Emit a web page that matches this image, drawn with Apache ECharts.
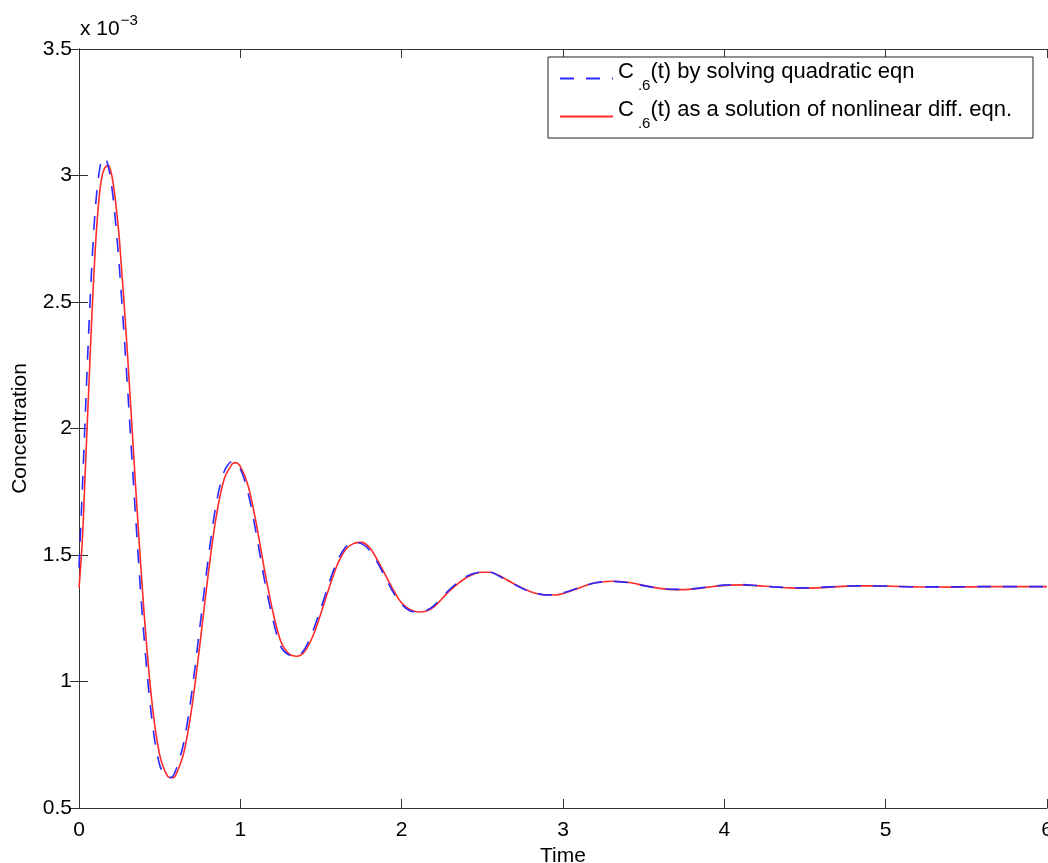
<!DOCTYPE html>
<html>
<head>
<meta charset="utf-8">
<script src="https://cdn.jsdelivr.net/npm/echarts@6/dist/echarts.min.js"></script>
<style>
html,body{margin:0;padding:0;background:#fff;}
#chart{width:1048px;height:863px;}
</style>
</head>
<body>
<div id="chart"></div>
<script>
// Values in units of 1e-3
const timeQuad = [0.00,0.02,0.04,0.06,0.08,0.10,0.12,0.14,0.16,0.18,0.20,0.22,0.25,0.30,0.35,0.40,0.45,0.50,0.55,0.57,0.60,0.65,0.70,0.75,0.80,0.85,0.90,0.95,1.00,1.05,1.10,1.15,1.20,1.25,1.30,1.35,1.40,1.45,1.50,1.55,1.60,1.65,1.70,1.75,1.80,1.85,1.90,1.95,2.00,2.05,2.10,2.15,2.20,2.30,2.40,2.50,2.55,2.60,2.70,2.80,2.90,2.95,3.00,3.10,3.20,3.30,3.40,3.50,3.60,3.70,3.80,3.90,4.00,4.10,4.20,4.30,4.40,4.50,4.60,4.70,4.80,4.90,5.00,5.20,5.40,5.60,5.80,6.00];
const concQuad = [1.45,1.75,2.07,2.38,2.65,2.86,2.99,3.06,3.07,3.04,2.97,2.86,2.64,2.17,1.66,1.20,0.86,0.67,0.62,0.62,0.65,0.76,0.96,1.22,1.48,1.70,1.83,1.87,1.84,1.74,1.58,1.40,1.25,1.14,1.105,1.10,1.13,1.20,1.29,1.39,1.475,1.53,1.55,1.545,1.52,1.47,1.41,1.35,1.305,1.28,1.275,1.28,1.30,1.365,1.415,1.433,1.432,1.418,1.383,1.354,1.342,1.343,1.35,1.371,1.39,1.396,1.391,1.379,1.368,1.364,1.366,1.374,1.381,1.383,1.379,1.374,1.371,1.370,1.372,1.376,1.378,1.378,1.377,1.374,1.374,1.375,1.375,1.375];
const timeDiff = [0.00,0.02,0.04,0.06,0.08,0.10,0.12,0.14,0.16,0.18,0.20,0.22,0.25,0.30,0.35,0.40,0.45,0.50,0.55,0.58,0.60,0.65,0.70,0.75,0.80,0.85,0.90,0.95,0.97,1.00,1.05,1.10,1.15,1.20,1.25,1.30,1.35,1.40,1.45,1.50,1.55,1.60,1.65,1.70,1.75,1.80,1.85,1.90,1.95,2.00,2.05,2.10,2.15,2.20,2.30,2.40,2.50,2.55,2.60,2.70,2.80,2.90,2.95,3.00,3.10,3.20,3.30,3.40,3.50,3.60,3.70,3.80,3.90,4.00,4.10,4.20,4.30,4.40,4.50,4.60,4.70,4.80,4.90,5.00,5.20,5.40,5.60,5.80,6.00];
const concDiff = [1.37,1.55,1.85,2.15,2.45,2.70,2.88,2.99,3.03,3.04,3.01,2.93,2.75,2.30,1.78,1.30,0.93,0.71,0.625,0.62,0.63,0.72,0.90,1.15,1.42,1.65,1.80,1.86,1.865,1.85,1.77,1.62,1.44,1.28,1.16,1.11,1.10,1.12,1.18,1.27,1.37,1.46,1.52,1.545,1.55,1.53,1.48,1.42,1.36,1.31,1.285,1.275,1.278,1.295,1.36,1.41,1.432,1.432,1.42,1.385,1.355,1.342,1.342,1.348,1.37,1.39,1.396,1.392,1.38,1.368,1.363,1.365,1.373,1.38,1.382,1.379,1.374,1.370,1.369,1.371,1.375,1.378,1.378,1.377,1.374,1.373,1.375,1.375,1.375];
const nameQuad = 'quad';
const nameDiff = 'diff';
const legendLabels = { quad: '(t) by solving quadratic eqn', diff: '(t) as a solution of nonlinear diff. eqn.' };
const xTickLabels = ['0','1','2','3','4','5','6'];

const pairs = (xs, ys) => xs.map((x, i) => [x, ys[i]]);
const FONT = '"Liberation Sans", Arial, Helvetica, sans-serif';
const axisCommon = {
  axisLine: { show: true, lineStyle: { color: '#333', width: 1 } },
  axisTick: { show: true, inside: true, length: 9, lineStyle: { color: '#333', width: 1 } },
  splitLine: { show: false }
};
const chart = echarts.init(document.getElementById('chart'));
chart.setOption({
  animation: false,
  backgroundColor: '#fff',
  textStyle: { fontFamily: FONT },
  grid: { left: 79, right: 1, top: 49, bottom: 55, containLabel: false, outerBoundsMode: 'none' },
  xAxis: [
    Object.assign({
      type: 'value', min: 0, max: 6, interval: 1, position: 'bottom',
      name: 'Time', nameLocation: 'middle', nameGap: 34,
      nameTextStyle: { fontSize: 21, color: '#000', fontFamily: FONT },
      axisLabel: { fontSize: 21, color: '#000', margin: 12, fontFamily: FONT,
        formatter: v => xTickLabels[Math.round(v)] }
    }, axisCommon),
    Object.assign({
      type: 'value', min: 0, max: 6, interval: 1, position: 'top',
      axisLabel: { show: false }
    }, axisCommon)
  ],
  yAxis: [
    Object.assign({
      type: 'value', min: 0.5, max: 3.5, interval: 0.5, position: 'left',
      name: 'Concentration', nameLocation: 'middle', nameGap: 48, nameRotate: 90,
      nameTextStyle: { fontSize: 21, color: '#000', fontFamily: FONT },
      axisLabel: { fontSize: 21, color: '#000', margin: 7, fontFamily: FONT }
    }, axisCommon),
    Object.assign({
      type: 'value', min: 0.5, max: 3.5, interval: 0.5, position: 'right',
      axisLabel: { show: false }
    }, axisCommon)
  ],
  legend: {
    data: [nameQuad, nameDiff],
    orient: 'vertical',
    left: 548, top: 57,
    padding: [4, 21, 4, 11],
    itemWidth: 53, itemHeight: 14, itemGap: 3,
    itemStyle: { opacity: 0 },
    backgroundColor: '#fff',
    borderColor: '#222', borderWidth: 1, borderRadius: 0,
    formatter: n => '{a|C}{s|.6}{a|' + legendLabels[n] + '}',
    textStyle: {
      fontFamily: FONT, fontSize: 22, color: '#000',
      rich: {
        a: { fontSize: 22, fontFamily: FONT, color: '#000', lineHeight: 22, padding: [0, 0, 13, 0] },
        s: { fontSize: 15, fontFamily: FONT, color: '#000', lineHeight: 16, padding: [14, 0, 0, 4] }
      }
    }
  },
  graphic: [{
    type: 'text', left: 80, top: 13,
    style: {
      text: '{a|x 10}{b|−3}', fontFamily: FONT,
      rich: {
        a: { fontSize: 21, fontFamily: FONT, fill: '#000', padding: [9, 0, 0, 0] },
        b: { fontSize: 15, fontFamily: FONT, fill: '#000', padding: [0, 0, 9, 1] }
      }
    }
  }],
  series: [
    {
      name: nameDiff, type: 'line', xAxisIndex: 0, yAxisIndex: 0,
      data: pairs(timeDiff, concDiff), showSymbol: false, symbol: 'none',
      smooth: 0.3,
      lineStyle: { color: '#ff2a2a', width: 1.6, type: 'solid' },
      itemStyle: { color: '#ff2a2a' }
    },
    {
      name: nameQuad, type: 'line', xAxisIndex: 0, yAxisIndex: 0,
      data: pairs(timeQuad, concQuad), showSymbol: false, symbol: 'none',
      smooth: 0.3,
      lineStyle: { color: '#2a2aff', width: 1.6, type: [14, 12] },
      itemStyle: { color: '#2a2aff' }
    }
  ]
});
</script>
</body>
</html>
